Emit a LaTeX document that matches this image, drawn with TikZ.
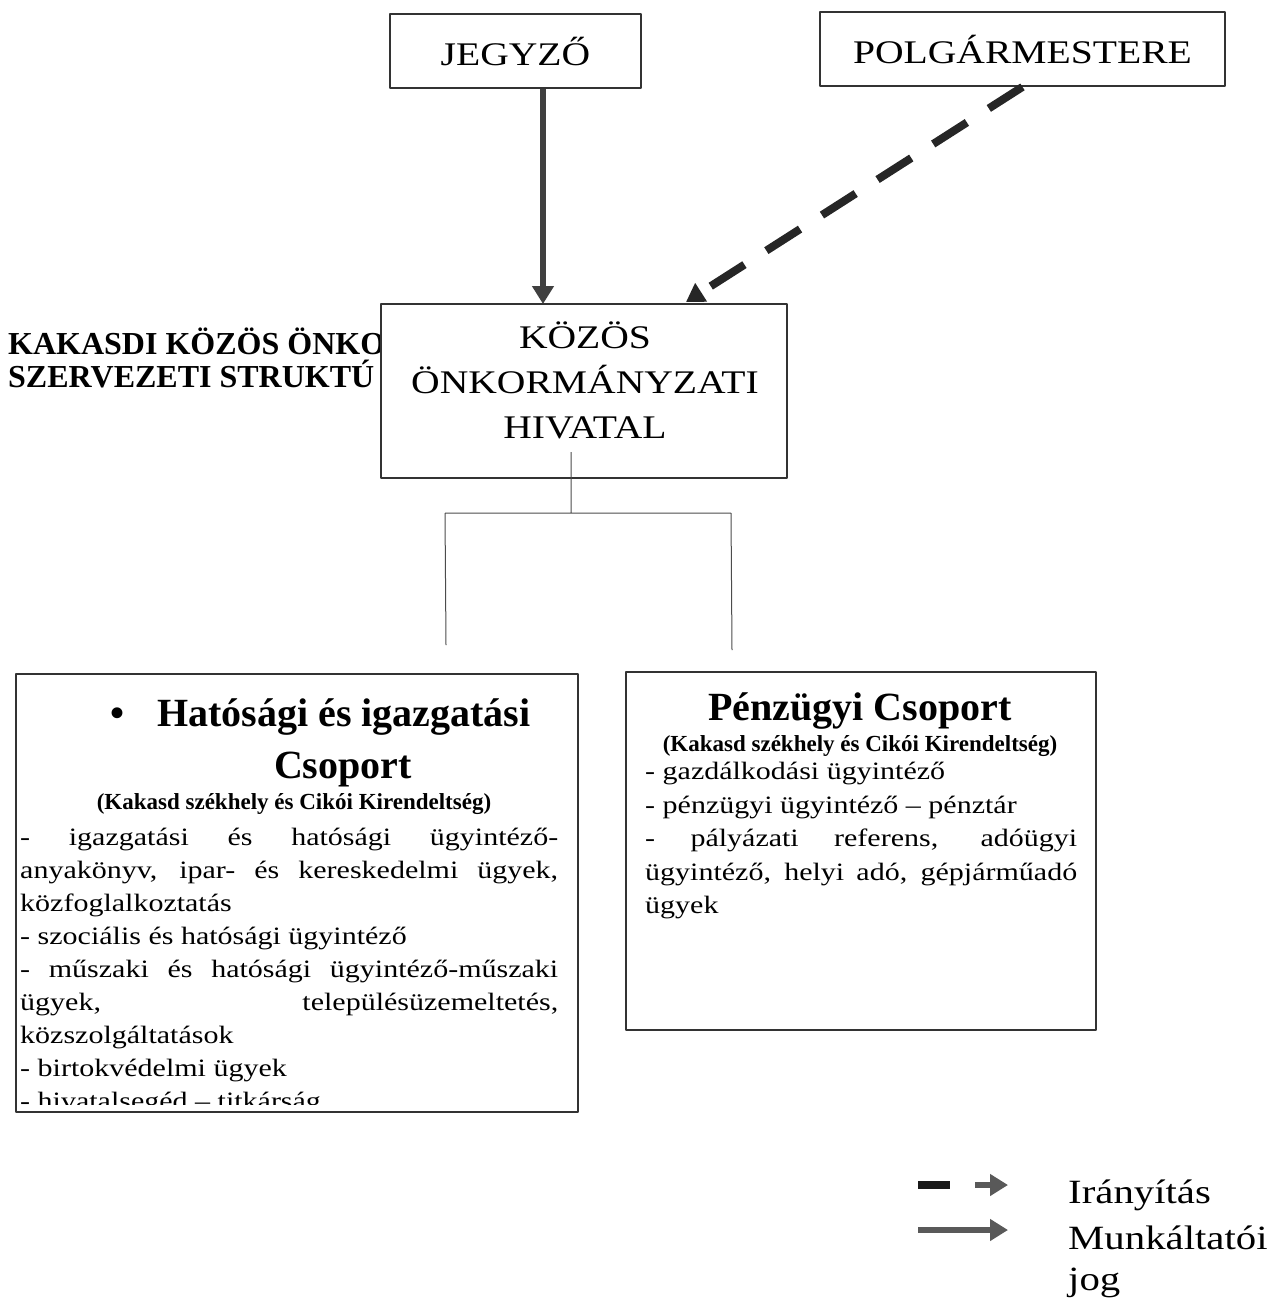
\documentclass[tikz,border=0pt]{standalone}
\usepackage{fontspec}
\setmainfont{Liberation Serif}
\newfontfamily\bookfont[FakeStretch=1.2]{Liberation Serif}
\usetikzlibrary{arrows.meta}
\begin{document}
\begin{tikzpicture}[x=1pt, y=-1pt, line join=round, >={Triangle[length=18pt,width=21pt]},
    box/.style={draw=black!80, line width=1.8pt, fill=white, inner sep=0pt},
    caps/.style={anchor=base, inner sep=0pt, font=\bookfont\fontsize{33}{45}\selectfont},
    ln/.style={anchor=base west, inner sep=0pt, font=\bookfont\fontsize{25}{33}\selectfont},
    bhead/.style={anchor=base, inner sep=0pt, font=\bfseries\fontsize{40}{48}\selectfont},
    sub/.style={anchor=base, inner sep=0pt, font=\bfseries\fontsize{23}{28}\selectfont},
    tree/.style={black!70, line width=1pt}]
  \useasboundingbox (0,0) rectangle (1276,1312);
  % title, partly hidden by the office box
  \node[anchor=base west, inner sep=0pt, font=\bfseries\fontsize{32}{34}\selectfont] (title1) at (8,354) {KAKASDI KÖZÖS ÖNKO};
  \node[anchor=base west, inner sep=0pt, font=\bfseries\fontsize{32}{34}\selectfont] (title2) at (8,387) {SZERVEZETI STRUKTÚ};
  % top boxes
  \node[box, minimum width=251pt, minimum height=74pt, font=\bookfont\fontsize{33}{40}\selectfont] (jegyzo) at (515.5,51) {JEGYZŐ};
  \node[box, minimum width=405pt, minimum height=74pt, font=\bookfont\fontsize{33}{40}\selectfont] (polgar) at (1022.5,49) {POLGÁRMESTERE};
  \node[box, minimum width=406pt, minimum height=174pt] (hivatal) at (584,391) {};
  \node[caps] (hv1) at (585,348) {KÖZÖS};
  \node[caps] (hv2) at (585,393) {ÖNKORMÁNYZATI};
  \node[caps] (hv3) at (585,438) {HIVATAL};
  % arrows
  \coordinate (jtip) at (543,304);
  \coordinate (ptip) at (686,302);
  \draw[->, line width=6pt, black!75] (jegyzo.south -| jtip) -- (jtip);
  \draw[->, line width=8pt, black!85, dash pattern=on 40pt off 26pt] (polgar.south) -- (ptip);
  % tree
  \coordinate (t0) at (571,452); \coordinate (t1) at (571,513);
  \coordinate (tl) at (445,513); \coordinate (tr) at (731,513);
  \coordinate (tle) at (446,645); \coordinate (tre) at (732,650);
  \draw[tree] (t0) -- (t1) (tl) -- (tr) (tl) -- (tle) (tr) -- (tre);
  % left group
  \node[box, minimum width=562pt, minimum height=438pt] (hatosagi) at (297,893) {};
  \node[bhead, anchor=base west] (h1) at (110,726) {\textbullet\hspace{33pt}Hatósági és igazgatási};
  \node[bhead] (h2) at (343,778) {Csoport};
  \node[sub] (h3) at (294,809) {(Kakasd székhely és Cikói Kirendeltség)};
  \foreach \y/\t [count=\i] in {845/{\makebox[538pt][s]{- igazgatási és hatósági ügyintéző-}},
      878/{\makebox[538pt][s]{anyakönyv, ipar- és kereskedelmi ügyek,}}, 911/közfoglalkoztatás,
      944/{- szociális és hatósági ügyintéző}, 977/{\makebox[538pt][s]{- műszaki és hatósági ügyintéző-műszaki}},
      1010/{\makebox[538pt][s]{ügyek, településüzemeltetés,}}, 1043/közszolgáltatások, 1076/{- birtokvédelmi ügyek}}
    \node[ln] (hl\i) at (20,\y) {\t};
  \begin{scope}
    \clip (18,676) rectangle (576,1104);
    \node[ln] (hl9) at (20,1109) {- hivatalsegéd – titkárság};
  \end{scope}
  % right group
  \node[box, minimum width=470pt, minimum height=358pt] (penzugyi) at (861,851) {};
  \node[bhead] (p1) at (860,720) {Pénzügyi Csoport};
  \node[sub] (p2) at (860,751) {(Kakasd székhely és Cikói Kirendeltség)};
  \foreach \y/\t [count=\i] in {779/{- gazdálkodási ügyintéző}, 813/{- pénzügyi ügyintéző – pénztár},
      846/{\makebox[432pt][s]{- pályázati referens, adóügyi}},
      880/{\makebox[432pt][s]{ügyintéző, helyi adó, gépjárműadó}}, 913/ügyek}
    \node[ln] (pl\i) at (645,\y) {\t};
  % legend
  \coordinate (d1) at (918,1185); \coordinate (d2) at (950,1185);
  \coordinate (d3) at (975,1185); \coordinate (d4) at (1008,1185);
  \coordinate (s1) at (918,1230); \coordinate (s2) at (1008,1230);
  \draw[line width=8pt, black!90] (d1) -- (d2);
  \draw[->, line width=6pt, black!65] (d3) -- (d4);
  \draw[->, line width=6pt, black!65] (s1) -- (s2);
  \node[ln, font=\bookfont\fontsize{34}{44}\selectfont] (lg1) at (1068,1203) {Irányítás};
  \node[ln, font=\bookfont\fontsize{34}{44}\selectfont] (lg2) at (1068,1249) {Munkáltatói};
  \node[ln, font=\bookfont\fontsize{34}{44}\selectfont] (lg3) at (1068,1290) {jog};
\end{tikzpicture}
\end{document}
